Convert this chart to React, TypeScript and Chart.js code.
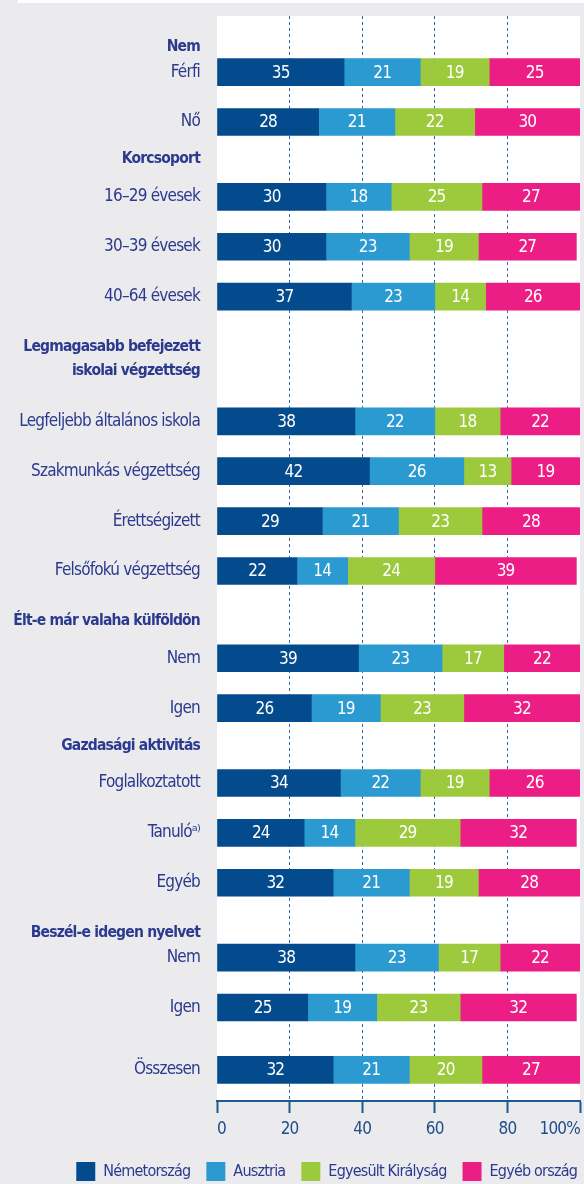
import React, { useEffect, useRef } from 'react';
import { Chart, registerables } from 'chart.js';

Chart.register(...registerables);

// ---------- data ----------
const rowLabels = [
  'Férfi',
  'Nő',
  '16–29 évesek',
  '30–39 évesek',
  '40–64 évesek',
  'Legfeljebb általános iskola',
  'Szakmunkás végzettség',
  'Érettségizett',
  'Felsőfokú végzettség',
  'Nem',
  'Igen',
  'Foglalkoztatott',
  'Tanulóᵃ⁾',
  'Egyéb',
  'Nem',
  'Igen',
  'Összesen',
];

const groupHeaders: (string | string[])[] = [
  'Nem',
  'Korcsoport',
  ['Legmagasabb befejezett', 'iskolai végzettség'],
  'Élt-e már valaha külföldön',
  'Gazdasági aktivitás',
  'Beszél-e idegen nyelvet',
];

const seriesNames = ['Németország', 'Ausztria', 'Egyesült Királyság', 'Egyéb ország'];

const germany = [35, 28, 30, 30, 37, 38, 42, 29, 22, 39, 26, 34, 24, 32, 38, 25, 32];
const austria = [21, 21, 18, 23, 23, 22, 26, 21, 14, 23, 19, 22, 14, 21, 23, 19, 21];
const unitedKingdom = [19, 22, 25, 19, 14, 18, 13, 23, 24, 17, 23, 19, 29, 19, 17, 23, 20];
const otherCountry = [25, 30, 27, 27, 26, 22, 19, 28, 39, 22, 32, 26, 32, 28, 22, 32, 27];

const xTickValues = [0, 20, 40, 60, 80, 100];

// ---------- layout: category slots on the y axis (quarter-row grid) ----------
const slotCount = 87;
const headerSlots = [2, 11, 27, 48, 58, 73];
const rowSlots = [4, 8, 14, 18, 22, 32, 36, 40, 44, 51, 55, 61, 65, 69, 75, 79, 84];

const FONT = "'DejaVu Sans Condensed', 'Liberation Sans Narrow', 'Roboto', sans-serif";
const TEXT = '#2b3a8e';
const AXIS_BLUE = '#1c5a98';
const COLORS = ['#044b8d', '#2a9ad0', '#9dca3c', '#ec1e85'];
const PAGE_BG = '#ebebee';
const LETTER_SPACING = '-0.8px';

const slotLabels: (string | string[])[] = [];
const slotIsHeader: boolean[] = [];
const slotRow: (number | null)[] = [];
for (let s = 0; s < slotCount; s++) {
  const h = headerSlots.indexOf(s);
  const r = rowSlots.indexOf(s);
  if (h >= 0) {
    slotLabels.push(groupHeaders[h]);
    slotIsHeader.push(true);
    slotRow.push(null);
  } else if (r >= 0) {
    slotLabels.push(rowLabels[r]);
    slotIsHeader.push(false);
    slotRow.push(r);
  } else {
    slotLabels.push('');
    slotIsHeader.push(false);
    slotRow.push(null);
  }
}
const expand = (vals: number[]) => slotRow.map((i) => (i === null ? null : vals[i]));

const setSpacing = (chart: any) => {
  (chart.ctx as any).letterSpacing = LETTER_SPACING;
};

const panelPlugin = {
  id: 'panel',
  beforeInit: setSpacing,
  beforeUpdate: setSpacing,
  beforeLayout: setSpacing,
  beforeDraw(chart: any) {
    const { ctx, chartArea: a, width, height } = chart;
    ctx.save();
    ctx.fillStyle = PAGE_BG;
    ctx.fillRect(0, 0, width, height);
    ctx.fillStyle = '#ffffff';
    ctx.fillRect(18, 0, width - 18, 3);
    ctx.fillRect(a.left, a.top, a.right - a.left, a.bottom - a.top);
    ctx.restore();
    setSpacing(chart);
  },
};

const valueLabelPlugin = {
  id: 'valueLabels',
  afterDatasetsDraw(chart: any) {
    const { ctx, chartArea } = chart;
    ctx.save();
    ctx.font = `17px ${FONT}`;
    ctx.fillStyle = '#ffffff';
    ctx.textAlign = 'center';
    ctx.textBaseline = 'middle';
    chart.data.datasets.forEach((ds: any, di: number) => {
      const meta = chart.getDatasetMeta(di);
      meta.data.forEach((el: any, i: number) => {
        const v = ds.data[i];
        if (v === null || v === undefined) return;
        const { x, y, base } = el.getProps(['x', 'y', 'base'], true);
        const right = Math.min(x, chartArea.right);
        ctx.fillText(String(v), (right + base) / 2, y + 1);
      });
    });
    ctx.restore();
  },
};

export default function App() {
  const canvasRef = useRef<HTMLCanvasElement | null>(null);

  useEffect(() => {
    document.body.style.margin = '0';
    document.body.style.background = PAGE_BG;
    const canvas = canvasRef.current;
    if (!canvas) return;
    const series = [germany, austria, unitedKingdom, otherCountry];
    const chart = new Chart(canvas, {
      type: 'bar',
      data: {
        labels: slotLabels,
        datasets: series.map((vals, i) => ({
          label: seriesNames[i],
          data: expand(vals),
          backgroundColor: COLORS[i],
          borderWidth: 0,
          barThickness: 27,
        })),
      },
      options: {
        indexAxis: 'y',
        animation: false,
        responsive: false,
        maintainAspectRatio: false,
        layout: { padding: { top: 16, right: -9, bottom: -7, left: 0 } },
        scales: {
          x: {
            stacked: true,
            min: 0,
            max: 100,
            afterBuildTicks: (scale: any) => {
              scale.ticks = xTickValues.map((v) => ({ value: v }));
            },
            afterFit: (scale: any) => {
              scale.height = 45;
              scale.paddingLeft = 0;
              scale.paddingRight = 0;
            },
            ticks: {
              align: 'inner',
              color: '#1d4e8a',
              padding: 6,
              font: { family: FONT, size: 17 },
              callback: (v: any) => (Number(v) === 100 ? '100%' : String(v)),
            },
            grid: {
              color: (c: any) =>
                c.tick && (c.tick.value === 0 || c.tick.value === 100) ? 'rgba(0,0,0,0)' : '#2f68ad',
              lineWidth: 1,
              tickColor: AXIS_BLUE,
              tickWidth: 2,
              tickLength: 12,
            },
            border: { display: true, color: AXIS_BLUE, width: 2, dash: [3, 3] },
          },
          y: {
            stacked: true,
            afterFit: (scale: any) => {
              scale.width = 217;
              scale.paddingTop = 0;
              scale.paddingBottom = 0;
            },
            grid: { display: false },
            border: { display: false },
            ticks: {
              autoSkip: false,
              color: TEXT,
              padding: 9,
              font: (c: any) =>
                slotIsHeader[c.index]
                  ? { family: FONT, size: 15.5, weight: 'bold', lineHeight: 1.6 }
                  : { family: FONT, size: 17, lineHeight: 1.2 },
            },
          },
          rightGutter: {
            type: 'category',
            position: 'right',
            grid: { display: false },
            border: { display: false },
            ticks: { display: false },
            afterFit: (scale: any) => {
              scale.width = 13;
              scale.paddingTop = 0;
              scale.paddingBottom = 0;
            },
          },
        },
        plugins: {
          legend: {
            position: 'bottom',
            align: 'end',
            labels: {
              boxWidth: 19,
              boxHeight: 19,
              padding: 16,
              color: TEXT,
              font: { family: FONT, size: 16 },
            },
          },
          tooltip: { enabled: false },
        },
      } as any,
      plugins: [panelPlugin, valueLabelPlugin],
    });
    return () => chart.destroy();
  }, []);

  return (
    <div style={{ width: 584, height: 1184, background: PAGE_BG }}>
      <canvas ref={canvasRef} width={584} height={1184} style={{ display: 'block' }} />
    </div>
  );
}
